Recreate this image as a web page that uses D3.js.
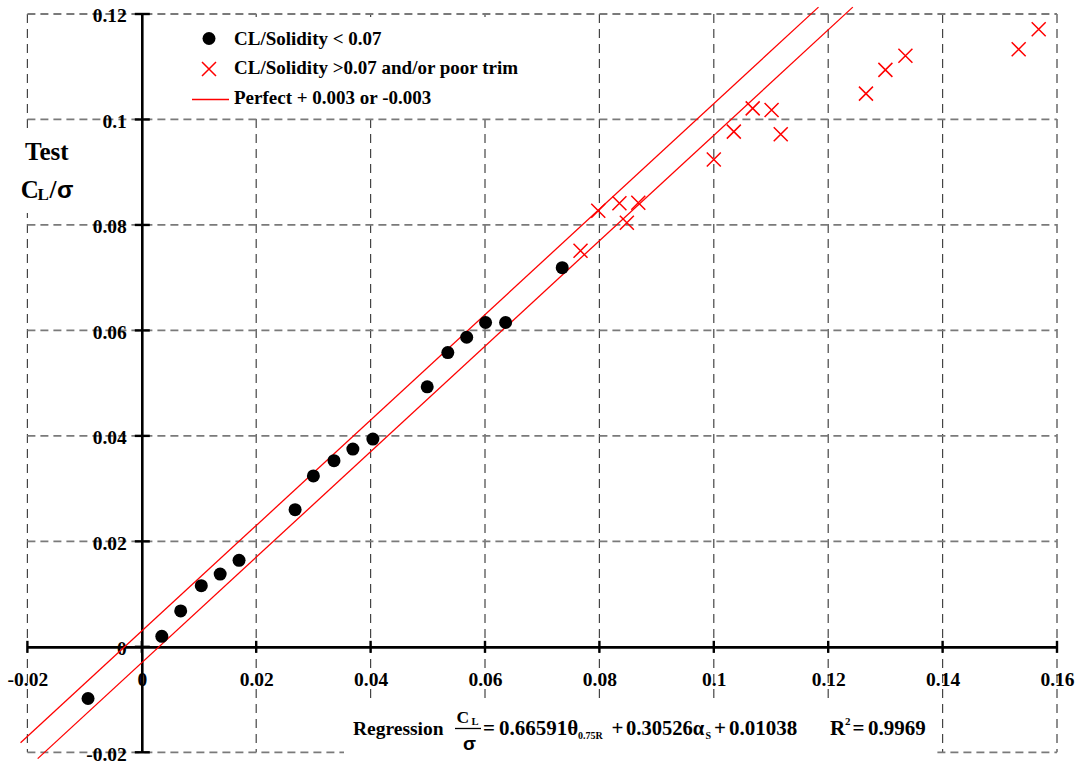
<!DOCTYPE html>
<html><head><meta charset="utf-8">
<script src="https://cdn.jsdelivr.net/npm/d3@7"></script>
<style>body{margin:0;background:#fff} svg{display:block}</style>
</head><body>
<svg id="c" width="1080" height="763"></svg>
<script>
// ---------- data ----------
const xTicks = [-0.02, 0, 0.02, 0.04, 0.06, 0.08, 0.1, 0.12, 0.14, 0.16];
const yTicks = [-0.02, 0, 0.02, 0.04, 0.06, 0.08, 0.1, 0.12];

// CL/Solidity < 0.07 (black dots)
const goodX = [-0.0094, 0.0035, 0.0068, 0.0104, 0.0137, 0.0170, 0.0268, 0.0300, 0.0336, 0.0369, 0.0404, 0.0499, 0.0535, 0.0568, 0.0601, 0.0636, 0.0735];
const goodY = [-0.0098, 0.0020, 0.0068, 0.0116, 0.0138, 0.0164, 0.0260, 0.0324, 0.0353, 0.0375, 0.0394, 0.0493, 0.0558, 0.0587, 0.0615, 0.0615, 0.0719];

// CL/Solidity > 0.07 and/or poor trim (red crosses)
const poorX = [0.0767, 0.0798, 0.0835, 0.0848, 0.0868, 0.1000, 0.1035, 0.1068, 0.1101, 0.1117, 0.1266, 0.1300, 0.1335, 0.1533, 0.1568];
const poorY = [0.0751, 0.0827, 0.0841, 0.0804, 0.0842, 0.0924, 0.0977, 0.1021, 0.1018, 0.0972, 0.1049, 0.1094, 0.1121, 0.1133, 0.1171];

// Perfect +/- 0.003 band
const bandOffsets = [0.003, -0.003];
const bandXStart = [-0.0212, -0.0182];
const bandXEnd = [0.1183, 0.1243];

const legendLabels = ["CL/Solidity < 0.07", "CL/Solidity >0.07 and/or poor trim", "Perfect + 0.003 or -0.003"];

// ---------- chart ----------
const svg = d3.select("#c");
const FONT = "'Liberation Serif','Times New Roman',serif";
const x = d3.scaleLinear().domain([-0.02, 0.16]).range([27.4, 1057]);
const y = d3.scaleLinear().domain([-0.02, 0.12]).range([752.3, 14]);
const fmt = d => (d < 0 ? "-" : "") + String(+Math.abs(d).toFixed(2));

// grid
const grid = svg.append("g");
grid.selectAll("line.v").data(xTicks.filter(d => d !== 0)).join("line").attr("class", "v")
  .attr("x1", d => x(d)).attr("x2", d => x(d)).attr("y1", y(0.12)).attr("y2", y(-0.02))
  .attr("stroke", "#444").attr("stroke-width", 1.2).attr("stroke-dasharray", "9,6");
grid.selectAll("line.h").data(yTicks.filter(d => d !== 0)).join("line").attr("class", "h")
  .attr("x1", x(-0.02)).attr("x2", x(0.16)).attr("y1", d => y(d)).attr("y2", d => y(d))
  .attr("stroke", "#7a7a7a").attr("stroke-width", 1.8).attr("stroke-dasharray", "8,5");

// white boxes behind legend / titles
svg.append("rect").attr("x", 180).attr("y", 17).attr("width", 365).attr("height", 100).attr("fill", "#fff");
svg.append("rect").attr("x", 15).attr("y", 128).attr("width", 66).attr("height", 85).attr("fill", "#fff");
svg.append("rect").attr("x", 344).attr("y", 698).attr("width", 592).attr("height", 65).attr("fill", "#fff");

// axes
const yAxis = d3.axisLeft(y).tickValues(yTicks).tickFormat(fmt).tickSize(0).tickPadding(15);
const gy = svg.append("g").attr("transform", `translate(${x(0)},0)`).call(yAxis);
const xAxis = d3.axisBottom(x).tickValues(xTicks).tickFormat(fmt).tickSize(0).tickPadding(25);
const gx = svg.append("g").attr("transform", `translate(0,${y(0)})`).call(xAxis);
[gx, gy].forEach(g => {
  g.select(".domain").attr("stroke", "#000").attr("stroke-width", 2.6);
  g.selectAll("text").attr("font-family", FONT).attr("font-weight", "bold")
    .attr("font-size", 19.5).attr("fill", "#000");
});
gy.selectAll("text").attr("dy", "0.4em");
// crossing ticks
svg.append("g").selectAll("line").data(yTicks).join("line")
  .attr("x1", x(0) - 7).attr("x2", x(0) + 8).attr("y1", d => y(d)).attr("y2", d => y(d))
  .attr("stroke", "#000").attr("stroke-width", 2.4);
svg.append("g").selectAll("line").data(xTicks).join("line")
  .attr("x1", d => x(d)).attr("x2", d => x(d)).attr("y1", y(0) - 6).attr("y2", y(0) + 6)
  .attr("stroke", "#000").attr("stroke-width", 2.4);

// band lines
const bandLine = d3.line().x(d => x(d[0])).y(d => y(d[1]));
bandOffsets.forEach((off, i) => {
  svg.append("path")
    .attr("d", bandLine([[bandXStart[i], bandXStart[i] + off], [bandXEnd[i], bandXEnd[i] + off]]))
    .attr("stroke", "#ff0000").attr("stroke-width", 1.3).attr("fill", "none");
});

// dots
svg.append("g").selectAll("circle").data(goodX.map((v, i) => [v, goodY[i]])).join("circle")
  .attr("cx", d => x(d[0])).attr("cy", d => y(d[1])).attr("r", 6.5).attr("fill", "#000");

// crosses
const cs = 7;
const crossPath = (cx, cy) => `M${cx - cs},${cy - cs}L${cx + cs},${cy + cs}M${cx - cs},${cy + cs}L${cx + cs},${cy - cs}`;
svg.append("g").selectAll("path").data(poorX.map((v, i) => [v, poorY[i]])).join("path")
  .attr("d", d => crossPath(x(d[0]), y(d[1])))
  .attr("stroke", "#ff0000").attr("stroke-width", 1.5).attr("fill", "none");

// legend
const lg = svg.append("g");
lg.append("circle").attr("cx", 209).attr("cy", 38.5).attr("r", 6.5).attr("fill", "#000");
lg.append("path").attr("d", crossPath(209, 69)).attr("stroke", "#ff0000").attr("stroke-width", 1.5);
lg.append("line").attr("x1", 192).attr("x2", 229).attr("y1", 99.5).attr("y2", 99.5)
  .attr("stroke", "#ff0000").attr("stroke-width", 1.3);
lg.selectAll("text").data(legendLabels).join("text")
  .attr("x", 234).attr("y", (d, i) => 44.5 + i * 29.8)
  .attr("font-family", FONT).attr("font-weight", "bold").attr("font-size", 19).attr("fill", "#000")
  .text(d => d);

// y title
const T = (txt, px, py, size, fam) => svg.append("text").attr("x", px).attr("y", py)
  .attr("font-family", fam || FONT).attr("font-weight", "bold").attr("font-size", size)
  .attr("fill", "#000").text(txt);
T("Test", 25, 160, 25);
T("C", 20.7, 198, 25);
T("L", 37.5, 199.5, 17);
T("/", 49.5, 198, 25);
T("σ", 57, 198, 24, "'Liberation Sans',Arial,sans-serif");

// regression text
T("Regression", 353, 735, 19.5);
T("C", 456.5, 723, 17.5);
T("L", 471.5, 725, 10.5);
svg.append("line").attr("x1", 455).attr("x2", 481).attr("y1", 728.5).attr("y2", 728.5)
  .attr("stroke", "#000").attr("stroke-width", 1.3);
T("σ", 463, 750, 19, "'Liberation Sans',Arial,sans-serif");
T("=", 483, 734.5, 21);
T("0.66591θ", 499, 734.5, 21);
T("0.75R", 578, 738.5, 10);
T("+", 611.5, 734.5, 21);
T("0.30526α", 626, 734.5, 20.5);
T("S", 705.5, 739, 10);
T("+", 714, 734.5, 21);
T("0.01038", 729, 734.5, 21);
T("R", 830, 734.5, 21);
T("2", 845, 725, 11);
T("=", 852.5, 734.5, 21);
T("0.9969", 868, 734.5, 21);
</script>
</body></html>
